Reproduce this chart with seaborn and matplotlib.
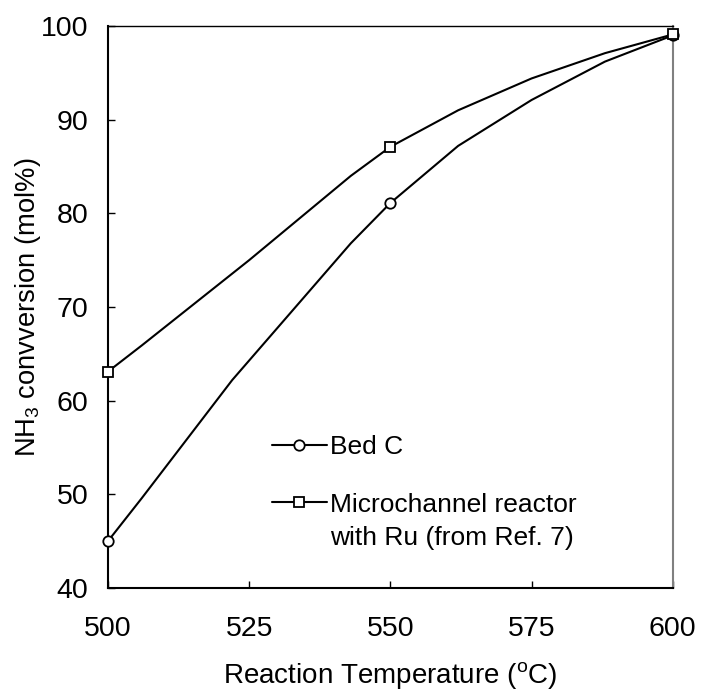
# %%
"""
Conversión de NH3 vs temperatura: Bed C frente a reactor de microcanales.
"""

import matplotlib.pyplot as plt
import seaborn as sns
import pandas as pd
from matplotlib.lines import Line2D
from matplotlib.legend_handler import HandlerLine2D

# Puntos medidos (marcadores)
temps = [500, 550, 600]
bed_c = [45.0, 81.1, 99.0]
micro = [63.1, 87.1, 99.1]

# Trazo suavizado
curve_t_bed = [500, 506, 522, 543, 550, 562, 575, 588, 600]
curve_bed = [45.0, 49.6, 62.2, 76.8, 81.1, 87.2, 92.1, 96.2, 99.0]
curve_t_micro = [500, 506, 525, 543, 550, 562, 575, 588, 600]
curve_micro = [63.1, 65.9, 75.0, 84.0, 87.1, 91.0, 94.4, 97.1, 99.1]

x_ticks = [500, 525, 550, 575, 600]
y_ticks = [40, 50, 60, 70, 80, 90, 100]

labels = ["Bed C", "Microchannel reactor\nwith Ru (from Ref. 7)"]


class HandlerArriba(HandlerLine2D):
    """Sube el símbolo a la altura de la primera línea del texto."""

    def __init__(self, subir=0.0, **kw):
        super().__init__(**kw)
        self.subir = subir

    def create_artists(self, legend, orig_handle, xdescent, ydescent,
                       width, height, fontsize, trans):
        return super().create_artists(legend, orig_handle, xdescent,
                                      ydescent - 2 * self.subir, width,
                                      height, fontsize, trans)


sns.set_style("ticks")
plt.rcParams["font.family"] = ["Liberation Sans", "DejaVu Sans"]
plt.rcParams["mathtext.fontset"] = "custom"
plt.rcParams["mathtext.rm"] = "Liberation Sans"
plt.rcParams["mathtext.it"] = "Liberation Sans:italic"
for clave in ["text.color", "axes.labelcolor", "xtick.color", "ytick.color",
              "axes.edgecolor"]:
    plt.rcParams[clave] = "black"

df_bed = pd.DataFrame({"T": curve_t_bed, "X": curve_bed})
df_micro = pd.DataFrame({"T": curve_t_micro, "X": curve_micro})
pts = pd.DataFrame({"T": temps * 2, "X": bed_c + micro,
                    "serie": [labels[0]] * 3 + [labels[1]] * 3})

fig = plt.figure(figsize=(7.01, 6.97), dpi=100)
ax = fig.add_axes([0.154, 0.1564, 0.8057, 0.8063])

sns.lineplot(data=df_bed, x="T", y="X", color="black", linewidth=1.5,
             ax=ax, sort=False)
sns.lineplot(data=df_micro, x="T", y="X", color="black", linewidth=1.5,
             ax=ax, sort=False)

for serie, mk in zip(labels, ["o", "s"]):
    sub = pts[pts["serie"] == serie]
    ax.plot(sub["T"], sub["X"], linestyle="none", marker=mk, markersize=7.5,
            markerfacecolor="white", markeredgecolor="black",
            markeredgewidth=1.3, clip_on=False, zorder=5)

ax.set_xlim(500, 600)
ax.set_ylim(40, 100)
ax.set_xticks(x_ticks)
ax.set_yticks(y_ticks)
ax.tick_params(axis="x", direction="in", length=5, width=1, pad=20,
               labelsize=20.5, top=False, colors="black")
ax.tick_params(axis="y", direction="in", length=5, width=1, pad=14,
               labelsize=20.5, right=False, colors="black")

for lado in ["left", "bottom"]:
    ax.spines[lado].set_linewidth(1.5)
    ax.spines[lado].set_color("black")
ax.spines["top"].set_linewidth(1.0)
ax.spines["top"].set_color("black")
ax.spines["right"].set_linewidth(1.5)
ax.spines["right"].set_color("#808080")

ax.set_xlabel("Reaction Temperature ($^{\\rm o}$C)", fontsize=20, labelpad=13)
ax.set_ylabel("NH$_{\\rm 3}$ convversion (mol%)", fontsize=19.7)
ax.yaxis.set_label_coords(-0.115, 0.5)

handles = [
    Line2D([], [], color="black", linewidth=1.5, marker=m, markersize=7.5,
           markerfacecolor="white", markeredgecolor="black",
           markeredgewidth=1.3)
    for m in ["o", "s"]
]
leg = ax.legend(handles, labels, loc="upper left",
                bbox_to_anchor=(0.29, 0.272), frameon=False, fontsize=19,
                handlelength=2.1, handletextpad=0.1, labelspacing=1.3,
                borderpad=0, borderaxespad=0, numpoints=1,
                handler_map={handles[1]: HandlerArriba(subir=14.5)})
for t in leg.get_texts():
    t.set_linespacing(1.45)
    t.set_color("black")

plt.savefig("out.png", dpi=100)
